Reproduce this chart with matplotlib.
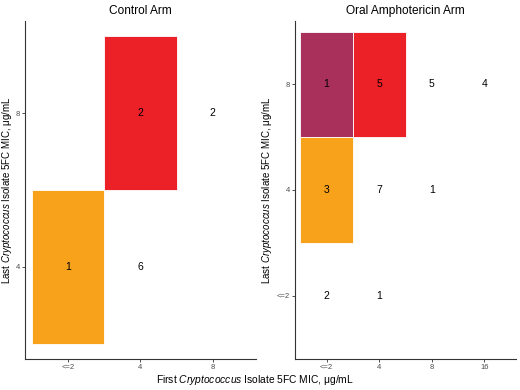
import matplotlib
matplotlib.use("Agg")
import matplotlib.pyplot as plt
from matplotlib.patches import Rectangle

plt.rcParams['font.family'] = ['Liberation Sans', 'DejaVu Sans']
plt.rcParams['mathtext.fontset'] = 'custom'
plt.rcParams['mathtext.rm'] = 'Liberation Sans'
plt.rcParams['mathtext.it'] = 'Liberation Sans:italic'

# Control arm
ctrl_x_labels = ['<=2', '4', '8']
ctrl_y_labels = ['4', '8']
ctrl_x = [1, 2, 2, 3]
ctrl_y = [1, 1, 2, 2]
ctrl_n = [1, 6, 2, 2]
ctrl_tile_x = [1, 2]
ctrl_tile_y = [1, 2]
ctrl_tile_c = ['#F8A21C', '#EC2027']

# Oral amphotericin arm
oral_x_labels = ['<=2', '4', '8', '16']
oral_y_labels = ['<=2', '4', '8']
oral_x = [1, 2, 3, 4, 1, 2, 3, 1, 2]
oral_y = [3, 3, 3, 3, 2, 2, 2, 1, 1]
oral_n = [1, 5, 5, 4, 3, 7, 1, 2, 1]
oral_tile_x = [1, 2, 1]
oral_tile_y = [3, 3, 2]
oral_tile_c = ['#AA305C', '#EC2027', '#F8A21C']

ylab = 'Last $\\it{Cryptococcus}$ Isolate 5FC MIC, μg/mL'
xlab = 'First $\\it{Cryptococcus}$ Isolate 5FC MIC, μg/mL'


def draw_panel(ax, title, xl, yl, xs, ys, ns, tx, ty, tc, ylab_x):
    for x, y, c in zip(tx, ty, tc):
        ax.add_patch(Rectangle((x - 0.5, y - 0.5), 1, 1, facecolor=c,
                               edgecolor='white', linewidth=0.6))
    for x, y, n in zip(xs, ys, ns):
        ax.text(x, y, str(n), ha='center', va='center', fontsize=7.5, color='black')
    ax.set_xlim(0.4, len(xl) + 0.6)
    ax.set_ylim(0.4, len(yl) + 0.6)
    ax.set_xticks(range(1, len(xl) + 1))
    ax.set_xticklabels(xl)
    ax.set_yticks(range(1, len(yl) + 1))
    ax.set_yticklabels(yl)
    for s in ['top', 'right']:
        ax.spines[s].set_visible(False)
    for s in ['left', 'bottom']:
        ax.spines[s].set_color('#333333')
        ax.spines[s].set_linewidth(0.8)
    ax.tick_params(labelsize=5.5, colors='#333333', labelcolor='#4D4D4D',
                   length=2, width=0.6, pad=1.5)
    ax.set_title(title, fontsize=8.6, pad=5)
    ax.set_ylabel(ylab, fontsize=7)
    ax.yaxis.set_label_coords(ylab_x, 0.5)


fig = plt.figure(figsize=(5.2, 3.9), dpi=100)
ax1 = fig.add_axes([25 / 520, 31 / 390, 231 / 520, 338 / 390])
ax2 = fig.add_axes([295 / 520, 31 / 390, 221 / 520, 338 / 390])

draw_panel(ax1, 'Control Arm', ctrl_x_labels, ctrl_y_labels, ctrl_x, ctrl_y, ctrl_n,
           ctrl_tile_x, ctrl_tile_y, ctrl_tile_c, (14 - 25) / 231)
draw_panel(ax2, 'Oral Amphotericin Arm', oral_x_labels, oral_y_labels, oral_x, oral_y, oral_n,
           oral_tile_x, oral_tile_y, oral_tile_c, (274 - 295) / 221)

fig.text(255 / 520, 1 - 380 / 390, xlab, ha='center', va='center', fontsize=7.4)

fig.savefig('out.png', dpi=100, facecolor='white')
